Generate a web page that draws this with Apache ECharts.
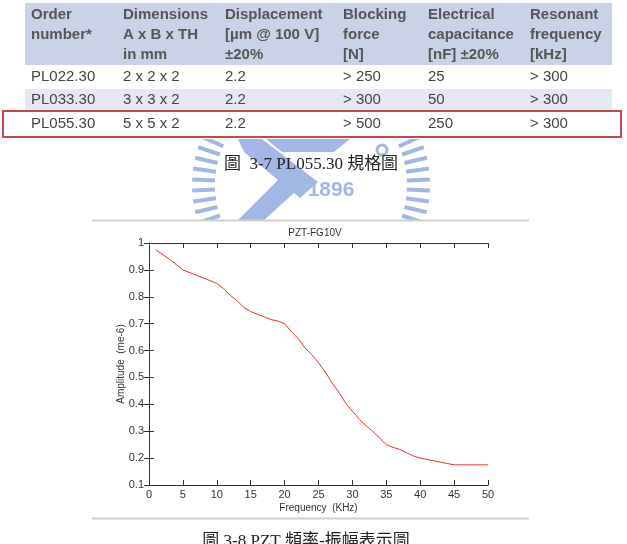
<!DOCTYPE html>
<html>
<head>
<meta charset="utf-8">
<script src="https://cdn.jsdelivr.net/npm/echarts@6/dist/echarts.min.js"></script>
<style>
html, body { margin: 0; padding: 0; background: #fff; }
#main { width: 627px; height: 544px; }
</style>
</head>
<body>
<div id="main"></div>
<script>
// frequency response
var freq = [1, 3, 5, 7, 9, 10, 11, 12, 13, 14, 15, 16, 17, 18, 19, 20, 21, 22, 23, 24, 25,
    26, 27, 28, 29, 30, 31, 32, 33, 34, 35, 36, 37, 38, 39, 40, 41, 42, 43, 44, 45, 46, 48, 50];
var amp = [0.975, 0.94, 0.90, 0.88, 0.86, 0.85, 0.83, 0.805, 0.785, 0.76, 0.745, 0.735, 0.725, 0.715, 0.71, 0.70,
    0.67, 0.645, 0.61, 0.585, 0.555, 0.52, 0.48, 0.445, 0.405, 0.375, 0.345, 0.32, 0.30, 0.275, 0.25,
    0.24, 0.232, 0.22, 0.208, 0.20, 0.195, 0.19, 0.185, 0.18, 0.175, 0.175, 0.175, 0.175];

// spec table
var headCols = [
    ['Order', 'number*'],
    ['Dimensions', 'A x B x TH', 'in mm'],
    ['Displacement', '[µm @ 100 V]', '±20%'],
    ['Blocking', 'force', '[N]'],
    ['Electrical', 'capacitance', '[nF] ±20%'],
    ['Resonant', 'frequency', '[kHz]']
];
var rows = [
    ['PL022.30', '2 x 2 x 2', '2.2', '> 250', '25', '> 300'],
    ['PL033.30', '3 x 3 x 2', '2.2', '> 300', '50', '> 300'],
    ['PL055.30', '5 x 5 x 2', '2.2', '> 500', '250', '> 300']
];
var caption1 = '圖  3-7 PL055.30 規格圖';
var caption2 = '圖 3-8 PZT 頻率-振幅表示圖';

var colX = [31, 123, 225, 343, 428, 530];
var rowY = [77, 100, 124];
var wmColor = '#a3b7e4';

var dom = document.getElementById('main');
var myChart = echarts.init(dom);

var graphics = [];

// watermark (school logo), drawn under everything
var cx = 311, cy = 185;
for (var k = 0; k < 68; k++) {
    var a = (k + 0.5) * 2 * Math.PI / 68;
    graphics.push({
        type: 'line', z: -10,
        shape: { x1: cx + 96 * Math.cos(a), y1: cy + 96 * Math.sin(a), x2: cx + 119 * Math.cos(a), y2: cy + 119 * Math.sin(a) },
        style: { stroke: wmColor, lineWidth: 4 }
    });
}
// crossed strokes in the middle
graphics.push({
    type: 'polygon', z: -10,
    shape: { points: [[238, 139], [262, 139], [318, 182], [300, 198], [244, 152]] },
    style: { fill: wmColor }
});
graphics.push({
    type: 'polygon', z: -10,
    shape: { points: [[236, 222], [262, 222], [306, 182], [292, 166]] },
    style: { fill: wmColor }
});
graphics.push({
    type: 'polygon', z: -10,
    shape: { points: [[266, 139], [350, 139], [334, 152], [282, 152]] },
    style: { fill: wmColor }
});
graphics.push({
    type: 'arc', z: -10,
    shape: { cx: 382, cy: 150, r: 5 },
    style: { stroke: wmColor, lineWidth: 3, fill: null }
});
graphics.push({
    type: 'text', z: -10, x: 331, y: 190,
    style: { text: '1896', fill: wmColor, font: 'bold 21px "Liberation Sans", Arial, sans-serif', align: 'center', verticalAlign: 'middle' }
});
// white covers so the watermark only shows between the table and the chart
graphics.push({ type: 'rect', z: -9, shape: { x: 0, y: 0, width: 627, height: 139 }, style: { fill: '#fff' } });
graphics.push({ type: 'rect', z: -9, shape: { x: 0, y: 220, width: 627, height: 324 }, style: { fill: '#fff' } });

// table
graphics.push({ type: 'rect', z: -8, shape: { x: 25, y: 3, width: 587, height: 62 }, style: { fill: '#c9d2e6' } });
graphics.push({ type: 'rect', z: -8, shape: { x: 25, y: 89, width: 587, height: 22 }, style: { fill: '#e3e8f3' } });
graphics.push({ type: 'rect', z: -7, shape: { x: 3, y: 111, width: 618, height: 26 }, style: { fill: null, stroke: '#c4474c', lineWidth: 2 } });
headCols.forEach(function (col, c) {
    col.forEach(function (t, i) {
        graphics.push({
            type: 'text', z: -7, x: colX[c], y: 15 + 20 * i,
            style: { text: t, fill: '#555', font: 'bold 15px "Liberation Sans", Arial, sans-serif', verticalAlign: 'middle' }
        });
    });
});
rows.forEach(function (r, i) {
    r.forEach(function (t, c) {
        graphics.push({
            type: 'text', z: -7, x: colX[c], y: rowY[i],
            style: { text: t, fill: '#444', font: '15px "Liberation Sans", Arial, sans-serif', verticalAlign: 'middle' }
        });
    });
});

// captions and rules
graphics.push({
    type: 'text', z: -7, x: 311, y: 165,
    style: { text: caption1, fill: '#222', font: '17px "Liberation Serif", "Noto Sans CJK TC", serif', align: 'center', verticalAlign: 'middle' }
});
graphics.push({ type: 'line', z: -7, shape: { x1: 92, y1: 220.5, x2: 529, y2: 220.5 }, style: { stroke: '#cfcfcf', lineWidth: 2 } });
graphics.push({ type: 'line', z: -7, shape: { x1: 92, y1: 518.5, x2: 529, y2: 518.5 }, style: { stroke: '#cfcfcf', lineWidth: 2 } });
graphics.push({
    type: 'text', z: -7, x: 306, y: 542,
    style: { text: caption2, fill: '#222', font: '17px "Liberation Serif", "Noto Sans CJK TC", serif', align: 'center', verticalAlign: 'middle' }
});

var axisLine = { show: true, lineStyle: { color: '#333', width: 1 } };
var tick = { show: true, inside: true, length: 5, lineStyle: { color: '#333' } };
var labelStyle = { color: '#333', fontSize: 11, fontFamily: 'Liberation Sans' };

var option = {
    animation: false,
    title: {
        text: 'PZT-FG10V',
        left: 315, top: 228, padding: 0, textAlign: 'center',
        textStyle: { fontSize: 10, fontWeight: 'normal', color: '#333', fontFamily: 'Liberation Sans' }
    },
    graphic: { elements: graphics },
    grid: { left: 149, top: 243, width: 339, height: 242 },
    xAxis: [
        {
            type: 'value', min: 0, max: 50, interval: 5,
            name: 'Frequency  (KHz)', nameLocation: 'middle', nameGap: 18, nameMoveOverlap: false,
            nameTextStyle: { color: '#333', fontSize: 10, fontFamily: 'Liberation Sans' },
            axisLine: axisLine, axisTick: tick, splitLine: { show: false },
            axisLabel: Object.assign({ margin: 4 }, labelStyle)
        },
        {
            type: 'value', position: 'top', min: 0, max: 50, interval: 5,
            axisLine: axisLine, axisTick: tick, splitLine: { show: false },
            axisLabel: { show: false }
        }
    ],
    yAxis: [
        {
            type: 'value', min: 0.1, max: 1, interval: 0.1,
            name: 'Amplitude  (me-6)', nameLocation: 'middle', nameGap: 23, nameMoveOverlap: false,
            nameTextStyle: { color: '#333', fontSize: 10, fontFamily: 'Liberation Sans' },
            axisLine: axisLine, axisTick: tick, splitLine: { show: false },
            axisLabel: Object.assign({ margin: 5 }, labelStyle)
        },
        {
            type: 'value', position: 'right', min: 0.1, max: 1, interval: 0.1,
            axisLine: axisLine, axisTick: tick, splitLine: { show: false },
            axisLabel: { show: false }
        }
    ],
    series: [
        {
            type: 'line',
            data: freq.map(function (f, i) { return [f, amp[i]]; }),
            showSymbol: false,
            lineStyle: { color: '#e4342b', width: 1 }
        }
    ]
};

if (option && typeof option === 'object') {
    myChart.setOption(option);
}
</script>
</body>
</html>
